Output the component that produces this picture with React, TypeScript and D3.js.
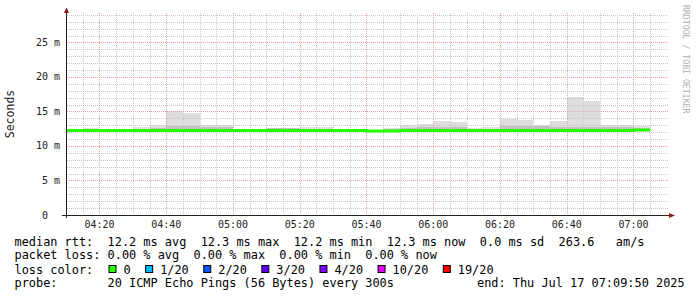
import React from "react";
import * as d3 from "d3";

// ---- data ----
const binTimes = [
  "04:10", "04:15", "04:20", "04:25", "04:30", "04:35", "04:40", "04:45", "04:50", "04:55",
  "05:00", "05:05", "05:10", "05:15", "05:20", "05:25", "05:30", "05:35", "05:40", "05:45",
  "05:50", "05:55", "06:00", "06:05", "06:10", "06:15", "06:20", "06:25", "06:30", "06:35",
  "06:40", "06:45", "06:50", "06:55", "07:00",
];
const medianMs = [
  12.25, 12.25, 12.25, 12.25, 12.25, 12.25, 12.25, 12.25, 12.25, 12.25,
  12.25, 12.25, 12.25, 12.25, 12.25, 12.25, 12.25, 12.25, 12.15, 12.15,
  12.25, 12.25, 12.25, 12.25, 12.25, 12.25, 12.25, 12.25, 12.25, 12.25,
  12.25, 12.25, 12.25, 12.25, 12.3,
];
const smokeMinMs = [
  12.1, 12.1, 12.1, 12.1, 12.1, 12.1, 12.1, 12.1, 12.1, 12.1,
  12.1, 12.1, 12.1, 12.1, 12.1, 12.1, 12.1, 12.1, 12.05, 12.05,
  12.1, 12.1, 12.1, 12.1, 12.1, 12.1, 12.1, 12.1, 12.1, 12.1,
  12.1, 12.1, 12.1, 12.1, 12.1,
];
const smokeMidMs = [
  12.35, 12.45, 12.35, 12.35, 12.5, 12.6, 12.9, 12.85, 12.8, 12.75,
  12.35, 12.35, 12.55, 12.55, 12.5, 12.5, 12.35, 12.35, 12.25, 12.45,
  12.6, 12.7, 12.8, 12.8, 12.4, 12.5, 12.9, 12.9, 12.85, 12.8,
  12.7, 12.7, 12.75, 12.7, 12.65,
];
const smokeMaxMs = [
  12.45, 12.6, 12.45, 12.45, 12.7, 13.0, 15.0, 14.8, 13.1, 13.0,
  12.45, 12.45, 12.6, 12.6, 12.7, 12.7, 12.45, 12.45, 12.3, 12.6,
  13.0, 13.2, 13.65, 13.5, 12.6, 12.7, 13.9, 13.8, 13.1, 13.65,
  17.1, 16.55, 13.0, 13.0, 12.9,
];
const yTickValues = [0, 5, 10, 15, 20, 25];
const lossLabels = ["0", "1/20", "2/20", "3/20", "4/20", "10/20", "19/20"];
const lossColors = ["#26ff00", "#00b8ff", "#0059ff", "#5e00ff", "#7e00ff", "#dd00ff", "#ff0000"];
const statsLine = "median rtt:  12.2 ms avg  12.3 ms max  12.2 ms min  12.3 ms now  0.0 ms sd  263.6   am/s";
const lossLine = "packet loss: 0.00 % avg  0.00 % max  0.00 % min  0.00 % now";
const lossColorTitle = "loss color:";
const probeLine = "probe:       20 ICMP Echo Pings (56 Bytes) every 300s";
const endLine = "end: Thu Jul 17 07:09:50 2025";
const yLabel = "Seconds";
const watermark = "RRDTOOL / TOBI OETIKER";

// ---- layout ----
const W = 697, H = 297;
const PLOT_TOP = 13, PLOT_BOTTOM = 215, AXIS_X = 66.5, GRID_RIGHT = 669;
const MONO = "'DejaVu Sans Mono', monospace";

const tStart = new Date(Date.UTC(2025, 6, 17, 4, 9, 50));
const tEnd = new Date(Date.UTC(2025, 6, 17, 7, 9, 50));
const parseT = (s: string) => {
  const [h, m] = s.split(":").map(Number);
  return new Date(Date.UTC(2025, 6, 17, h, m, 0));
};

export default function App() {
  const x = d3.scaleUtc().domain([tStart, tEnd]).range([65.5, 666.3]);
  const y = d3.scaleLinear().domain([0, 29.26]).range([PLOT_BOTTOM, PLOT_TOP]);
  const fmt = d3.utcFormat("%H:%M");
  const step = 5 * 60 * 1000;

  const bins = binTimes.map((s, i) => {
    const t0 = parseT(s);
    const t1 = new Date(t0.getTime() + step);
    return { x0: x(t0), x1: x(t1), med: medianMs[i], lo: smokeMinMs[i], mid: smokeMidMs[i], hi: smokeMaxMs[i] };
  });

  const minorX = x.ticks(d3.utcMinute.every(5)!).filter((t) => x(t) > AXIS_X + 1);
  const majorX = x.ticks(d3.utcMinute.every(20)!);
  const minorY = d3.range(1, 30).filter((v) => v % 5 !== 0 && y(v) >= PLOT_TOP);
  const majorY = yTickValues.filter((v) => v > 0);

  const medianPath = d3
    .line<{ x: number; y: number }>()
    .x((d) => d.x)
    .y((d) => d.y)(
    bins.flatMap((b) => [
      { x: b.x0, y: y(b.med) },
      { x: b.x1, y: y(b.med) },
    ])
  );

  // legend layout for loss colours
  const charW = 7.15;
  let cursor = 108.5;
  const lossItems = lossLabels.map((lab, i) => {
    const bx = cursor;
    const tx = bx + 15;
    cursor = tx + lab.length * charW + 14.5;
    return { bx, tx, lab, color: lossColors[i] };
  });

  const px = (v: number) => Math.round(v) + 0.5;

  return (
    <svg width={W} height={H} style={{ position: "absolute", left: 0, top: 0, background: "#fff" }}>
      <rect x={0} y={0} width={W} height={H} fill="#ffffff" />
      {/* smoke */}
      <g shapeRendering="crispEdges">
        {bins.map((b, i) => (
          <rect key={"o" + i} x={b.x0} y={y(b.hi)} width={b.x1 - b.x0} height={y(b.lo) - y(b.hi)} fill="#dddddd" />
        ))}
        {bins.map((b, i) => (
          <rect key={"m" + i} x={b.x0} y={y(b.mid)} width={b.x1 - b.x0} height={y(b.lo) - y(b.mid)} fill="#c2c2c2" />
        ))}
      </g>
      {/* grid */}
      <g shapeRendering="crispEdges" strokeWidth={1} strokeDasharray="1,1">
        {minorY.map((v) => (
          <line key={"my" + v} x1={AXIS_X} x2={GRID_RIGHT} y1={px(y(v))} y2={px(y(v))} stroke="#c8c8c8" />
        ))}
        {minorX.map((t) => (
          <line key={"mx" + t.getTime()} x1={px(x(t))} x2={px(x(t))} y1={PLOT_TOP} y2={PLOT_BOTTOM} stroke="#c8c8c8" />
        ))}
        {majorY.map((v) => (
          <line key={"My" + v} x1={AXIS_X} x2={GRID_RIGHT} y1={px(y(v))} y2={px(y(v))} stroke="#e9a0a0" />
        ))}
        {majorX.map((t) => (
          <line key={"Mx" + t.getTime()} x1={px(x(t))} x2={px(x(t))} y1={PLOT_TOP} y2={PLOT_BOTTOM} stroke="#e9a0a0" />
        ))}
      </g>
      {/* median */}
      <path d={medianPath || ""} fill="none" stroke="#26ff00" strokeWidth={3} />
      {/* axes */}
      <g shapeRendering="crispEdges" stroke="#222">
        <line x1={AXIS_X} x2={AXIS_X} y1={PLOT_TOP} y2={218} />
        <line x1={62} x2={670} y1={215.5} y2={215.5} />
      </g>
      <path d={`M64,13 L66.5,7.5 L69,13 Z`} fill="#8b1a1a" />
      <path d={`M669,213 L675,215.5 L669,218 Z`} fill="#8b1a1a" />
      {/* y tick labels */}
      <g fontFamily={MONO} fontSize={10} fill="#222">
        {yTickValues.map((v) => (
          <g key={"yl" + v}>
            <text x={48} y={y(v) + 3.5} textAnchor="end">{v}</text>
            {v !== 0 && <text x={54} y={y(v) + 3.5}>m</text>}
          </g>
        ))}
        {majorX.map((t) => (
          <text key={"xl" + t.getTime()} x={x(t)} y={227.5} textAnchor="middle">{fmt(t)}</text>
        ))}
      </g>
      <text
        fontFamily={MONO}
        fontSize={11.5}
        fill="#222"
        textAnchor="middle"
        transform={`translate(14,114) rotate(-90)`}
      >
        {yLabel}
      </text>
      <text
        fontFamily={MONO}
        fontSize={8.2}
        fill="#b0b0b0"
        transform={`translate(683,5) rotate(90)`}
      >
        {watermark}
      </text>
      {/* legend */}
      <g fontFamily={MONO} fontSize={11.9} fill="#000" style={{ whiteSpace: "pre" }}>
        <text x={14.5} y={245.5} xmlSpace="preserve">{statsLine}</text>
        <text x={14.5} y={259} xmlSpace="preserve">{lossLine}</text>
        <text x={14.5} y={273.5} xmlSpace="preserve">{lossColorTitle}</text>
        {lossItems.map((it) => (
          <g key={it.lab}>
            <rect x={it.bx + 0.5} y={265.5} width={7} height={7} fill={it.color} stroke="#000" strokeWidth={1} />
            <text x={it.tx} y={273.5}>{it.lab}</text>
          </g>
        ))}
        <text x={14.5} y={287} xmlSpace="preserve">{probeLine}</text>
        <text x={477} y={287} xmlSpace="preserve">{endLine}</text>
      </g>
    </svg>
  );
}
